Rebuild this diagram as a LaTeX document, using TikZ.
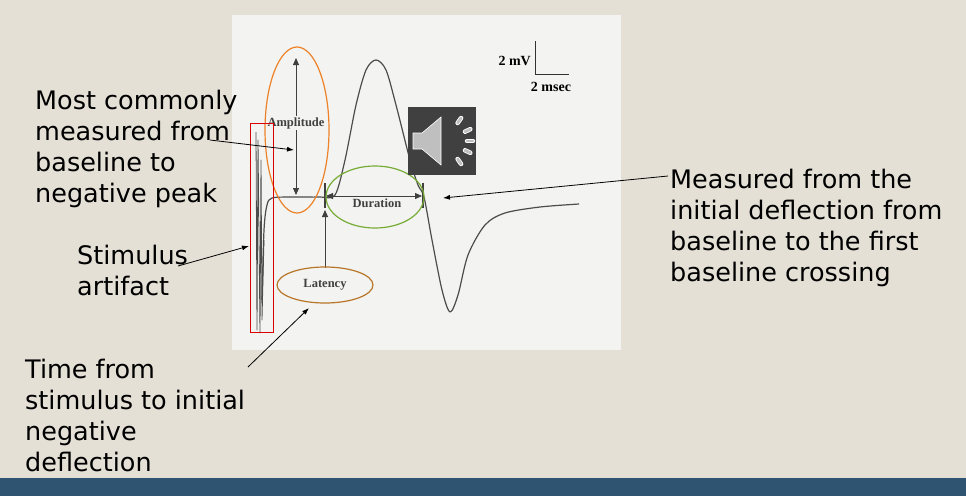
\documentclass[tikz,border=0pt]{standalone}
\usepackage{fontspec}
\setmainfont{DejaVu Sans}
\newfontfamily\serifb{Liberation Serif}
\usetikzlibrary{arrows.meta,calc}
\definecolor{bgc}{RGB}{228,224,214}
\definecolor{bandc}{RGB}{47,84,114}
\definecolor{panelc}{RGB}{243,243,241}
\definecolor{greenc}{RGB}{118,172,52}
\definecolor{brownc}{RGB}{184,118,40}
\definecolor{orangec}{RGB}{237,130,40}
\begin{document}
\begin{tikzpicture}[x=1pt,y=-1pt,
  note/.style={align=left,anchor=north west,font=\fontsize{25.5}{31}\selectfont,inner sep=0pt},
  lbl/.style={font=\serifb\bfseries\fontsize{12.5}{14}\selectfont,text=black!75,inner sep=1pt},
  ann/.style={-{Latex[length=7pt,width=5pt]},black,line width=0.8pt},
  dim/.style={{Triangle[length=7pt,width=6pt]}-{Triangle[length=7pt,width=6pt]},black!75,line width=0.8pt},
  wave/.style={black!70,line width=1.2pt,line join=round}]
\fill[bgc] (0,0) rectangle (966,496);
\useasboundingbox (0,0) rectangle (966,496);
\fill[bandc] (0,478) rectangle (966,496);
\fill[panelc] (232,15) rectangle (621,350);
% waveform
\draw[wave,line width=0.8pt] (256,132) -- (257,330) -- (258,140) -- (260,333) -- (261,160) -- (262,320) -- (264,240);
\draw[wave] plot[smooth,tension=0.5] coordinates {(262,300) (264,230) (267,205) (272,198) (290,197) (320,197) (335,195) (345,160) (356,105) (366,70) (376,60) (386,70) (396,105) (410,160) (418,185) (424,197) (432,240) (442,290) (450,312) (458,295) (468,255) (485,225) (505,213) (540,207) (579,204)};
% scale bar
\node[lbl,text=black,anchor=east,font=\serifb\bfseries\fontsize{14}{16}\selectfont] (mv) at (532,61) {2 mV};
\draw[black!80,line width=1pt] (535,41) -- (535,74) -- (569,74);
\node[lbl,text=black,font=\serifb\bfseries\fontsize{14}{16}\selectfont] (ms) at (551,87) {2 msec};
% amplitude
\coordinate (at) at (296,58);
\coordinate (ab) at (296,195);
\draw[dim] (at) -- (ab);
\node[lbl,fill=panelc] (amp) at (296,123) {Amplitude};
\draw[orangec,line width=1.2pt] (297,130) ellipse[x radius=32,y radius=83];
% ticks
\draw[black!75,line width=1.2pt] (325,183) -- (325,208) (423,183) -- (423,208);
\coordinate (dl) at (326,196);
\coordinate (dr) at (422,196);
\draw[dim] (dl) -- (dr);
\node[lbl] (dur) at (377,203) {Duration};
\draw[greenc,line width=1.2pt] (375,197) ellipse[x radius=49,y radius=31];
% latency
\node[lbl] (lat) at (325,285) {Latency};
\coordinate (lt) at (325,210);
\draw[black!75,line width=0.8pt,-{Triangle[length=7pt,width=6pt]}] (325,268) -- (lt);
\draw[brownc,line width=1.2pt] (325,285) ellipse[x radius=48,y radius=18];
% red box
\draw[red!85!black,line width=1pt] (250,123) rectangle (273,332);
% speaker
\fill[black!75] (408,107) rectangle (476,175);
\fill[black!25,draw=white,line width=0.6pt] (413,133) -- (422,133) -- (441,117) -- (441,165) -- (422,149) -- (413,149) -- cycle;
\foreach \a in {55,25,0,-25,-55}{
  \draw[white,line width=4.5pt,line cap=round] ($(445,141)+(\a:22)$) -- ($(445,141)+(\a:28)$);
  \draw[black!25,line width=2.8pt,line cap=round] ($(445,141)+(\a:22)$) -- ($(445,141)+(\a:28)$);
}
% notes
\node[note] (n1) at (35,90) {Most commonly\\measured from\\baseline to\\negative peak};
\node[note] (n2) at (77,245) {Stimulus\\artifact};
\node[note] (n3) at (25,359) {Time from\\stimulus to initial\\negative\\deflection};
\node[note] (n4) at (670,169) {Measured from the\\initial deflection from\\baseline to the first\\baseline crossing};
\coordinate (c1s) at (210,140); \coordinate (c1e) at (294,150);
\coordinate (c2s) at (178,266); \coordinate (c2e) at (249,246);
\coordinate (c3s) at (248,367); \coordinate (c3e) at (309,308);
\coordinate (c4s) at (668,176); \coordinate (c4e) at (443,198);
\draw[ann] (c1s) -- (c1e);
\draw[ann] (c2s) -- (c2e);
\draw[ann] (c3s) -- (c3e);
\draw[ann] (c4s) -- (c4e);
\end{tikzpicture}
\end{document}
